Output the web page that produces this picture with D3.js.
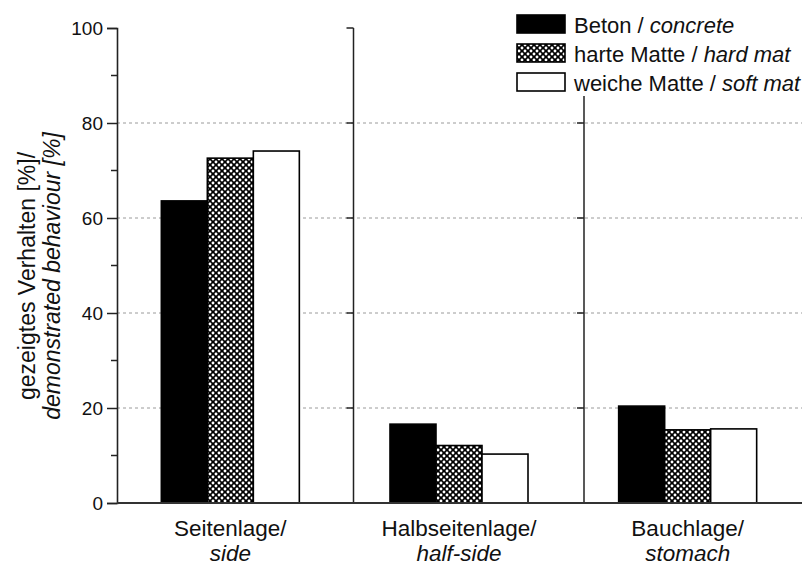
<!DOCTYPE html>
<html><head><meta charset="utf-8">
<script src="https://cdn.jsdelivr.net/npm/d3@7"></script>
<style>
body{margin:0;background:#fff;}
text{font-family:"Liberation Sans",Arial,sans-serif;fill:#111;}
</style></head><body>
<svg id="c" width="806" height="565"></svg>
<script>
const categories = [["Seitenlage/","side"],["Halbseitenlage/","half-side"],["Bauchlage/","stomach"]];
const seriesNames = [["Beton / ","concrete"],["harte Matte / ","hard mat"],["weiche Matte / ","soft mat"]];
const beton = [63.6, 16.6, 20.4];
const harteMatte = [72.6, 12.1, 15.4];
const weicheMatte = [74.1, 10.3, 15.6];
const yTicks = [0,20,40,60,80,100];
const yMinor = [10,30,50,70,90];
const gridVals = [20,40,60,80];
const separatorsAt = [353.5, 584];

const svg = d3.select("#c");
const L=117, R=802, T=28, B=503;
const y = d3.scaleLinear().domain([0,100]).range([B,T]);
const x = d3.scaleBand().domain(d3.range(categories.length)).range([116,802]).padding(0);
const inner = d3.scaleBand().domain([0,1,2]).range([0,138]).padding(0);
const series = [beton, harteMatte, weicheMatte];

const defs = svg.append("defs");
const pat = defs.append("pattern").attr("id","chk").attr("patternUnits","userSpaceOnUse")
  .attr("width",6).attr("height",6);
pat.append("rect").attr("width",6).attr("height",6).attr("fill","#000");
[[0,0],[6,0],[0,6],[6,6],[3,3]].forEach(p=>pat.append("circle").attr("cx",p[0]).attr("cy",p[1]).attr("r",1.45).attr("fill","#fff"));
const fills = ["#000","url(#chk)","#fff"];

// grid
svg.append("g").selectAll("line").data(gridVals).join("line")
  .attr("x1",L).attr("x2",R).attr("y1",d=>y(d)).attr("y2",d=>y(d))
  .attr("stroke","#9a9a9a").attr("stroke-width",1).attr("stroke-dasharray","3,3");

// separators
separatorsAt.forEach(sx=>{
  const g = svg.append("g");
  g.append("line").attr("x1",sx).attr("x2",sx).attr("y1",y(100)).attr("y2",B).attr("stroke","#222").attr("stroke-width",1.5);
  g.selectAll("line.t").data(yTicks).join("line").attr("class","t")
    .attr("x1",sx-7).attr("x2",sx).attr("y1",d=>y(d)).attr("y2",d=>y(d)).attr("stroke","#222").attr("stroke-width",1.5);
});

// bars
series.forEach((vals,si)=>{
  svg.append("g").selectAll("rect").data(vals).join("rect")
    .attr("x",(d,i)=>x(i)+x.bandwidth()/2-69+inner(si))
    .attr("width",inner.bandwidth())
    .attr("y",d=>y(d)).attr("height",d=>B-y(d))
    .attr("fill",fills[si]).attr("stroke","#000").attr("stroke-width",1.6);
});

// y axis
const yAxis = d3.axisLeft(y).tickValues(yTicks).tickSize(10).tickPadding(4).tickFormat(d3.format("d"));
const ya = svg.append("g").attr("transform",`translate(${L},0)`).call(yAxis);
ya.select(".domain").attr("stroke","#222").attr("stroke-width",1.6);
ya.selectAll(".tick line").attr("stroke","#222").attr("stroke-width",1.5);
ya.selectAll(".tick text").attr("font-size",19).attr("font-family","Liberation Sans, Arial").attr("fill","#222");
ya.append("g").selectAll("line").data(yMinor).join("line")
  .attr("x1",-6).attr("x2",0).attr("y1",d=>y(d)).attr("y2",d=>y(d)).attr("stroke","#222").attr("stroke-width",1.5);

// x axis line
svg.append("line").attr("x1",L).attr("x2",R).attr("y1",B).attr("y2",B).attr("stroke","#333").attr("stroke-width",2);

// category labels
const cl = svg.append("g").selectAll("text").data(categories).join("text")
  .attr("text-anchor","middle").attr("font-size",22.5);
cl.each(function(d,i){
  const t=d3.select(this); const cx=x(i)+x.bandwidth()/2;
  t.append("tspan").attr("x",cx).attr("y",536).text(d[0]);
  t.append("tspan").attr("x",cx).attr("y",561).attr("font-style","italic").text(d[1]);
});

// y title
const yt = svg.append("text").attr("transform","translate(0,276) rotate(-90)").attr("text-anchor","middle").attr("font-size",23);
yt.append("tspan").attr("x",0).attr("y",35).text("gezeigtes Verhalten [%]/");
yt.append("tspan").attr("x",0).attr("y",60).attr("font-style","italic").text("demonstrated behaviour [%]");

// legend
const lg = svg.append("g");
lg.append("rect").attr("x",510).attr("y",8).attr("width",296).attr("height",88).attr("fill","#fff");
seriesNames.forEach((n,i)=>{
  const yy = 15 + i*29;
  lg.append("rect").attr("x",517).attr("y",yy).attr("width",48).attr("height",18)
    .attr("fill",fills[i]).attr("stroke","#000").attr("stroke-width",1.6);
  const t = lg.append("text").attr("x",574).attr("y",yy+18).attr("font-size",22);
  t.append("tspan").text(n[0]);
  t.append("tspan").attr("font-style","italic").text(n[1]);
});
</script></body></html>
